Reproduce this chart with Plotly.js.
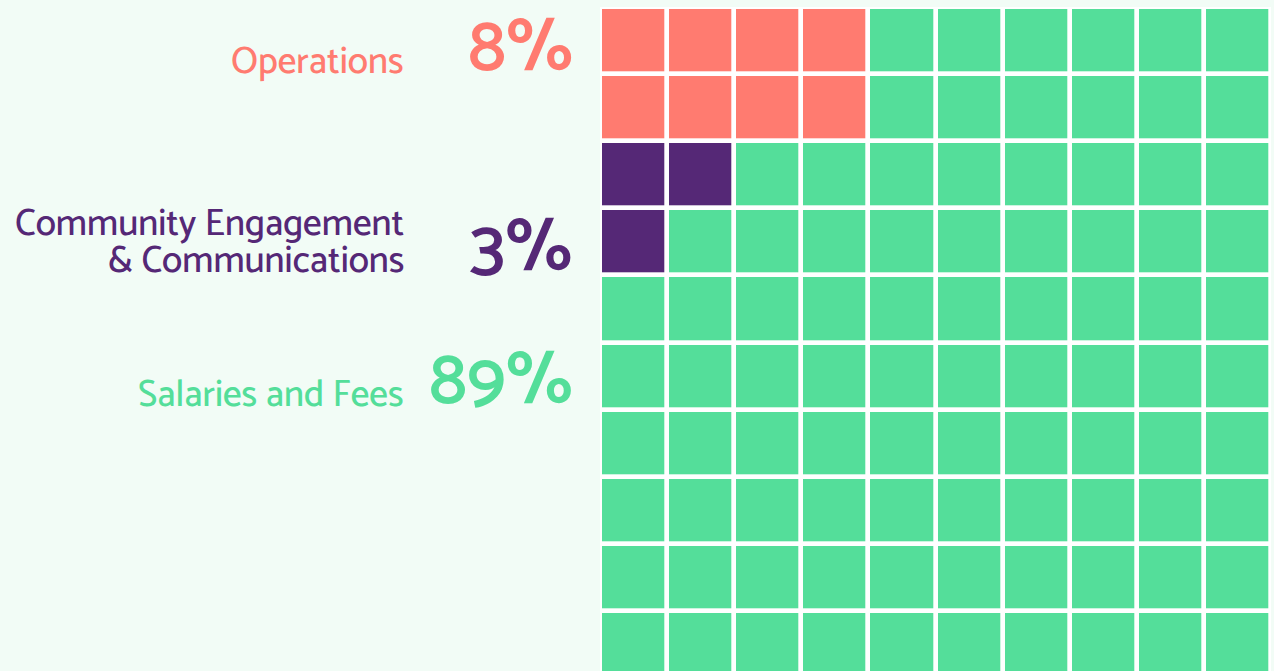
<!DOCTYPE html>
<html><head><meta charset="utf-8">
<script src="https://cdn.plot.ly/plotly-3.0.1.min.js"></script>
<style>html,body{margin:0;padding:0;background:#f2fcf6;}#chart{width:1274px;height:671px;}</style>
</head><body><div id="chart"></div>
<script>
const categories = ["Operations", "Community Engagement\n& Communications", "Salaries and Fees"];
const values = [8, 3, 89];
const colors = ["#ff7b70", "#552876", "#54de9a"];
// waffle layout: O=Operations, C=Community, S=Salaries
const gridRows = [
  "OOOOSSSSSS",
  "OOOOSSSSSS",
  "CCSSSSSSSS",
  "CSSSSSSSSS",
  "SSSSSSSSSS",
  "SSSSSSSSSS",
  "SSSSSSSSSS",
  "SSSSSSSSSS",
  "SSSSSSSSSS",
  "SSSSSSSSSS"
];
const codeIndex = {O: 0, C: 1, S: 2};

const z = gridRows.map(r => r.split("").map(c => codeIndex[c]));
const W = 1274, H = 671;
const mL = 600, mR = 3, mT = 7, mB = 0;
const pw = W - mL - mR, ph = H - mT - mB;
const unit = pw / 10;
const yUnits = ph / unit;

const trace = {
  type: "heatmap",
  z: z,
  x: [...Array(10).keys()],
  y: [...Array(10).keys()],
  zmin: 0, zmax: 2,
  colorscale: [[0, colors[0]], [0.333, colors[0]], [0.333, colors[1]], [0.667, colors[1]], [0.667, colors[2]], [1, colors[2]]],
  showscale: false,
  xgap: 4.7, ygap: 4.7,
  hoverinfo: "skip"
};

function px2x(p) { return (p - mL) / pw; }
function py2y(p) { return 1 - (p - mT) / ph; }

const font = "Catamaran, 'Open Sans', 'Noto Sans', sans-serif";
const labelY = [[62], [225, 261], [395]];
const pctY = [49, 249, 382];
const annotations = [];
categories.forEach((c, i) => {
  c.split("\n").forEach((line, j) => {
    annotations.push({
      xref: "paper", yref: "paper", x: px2x(406), y: py2y(labelY[i][j]),
      xanchor: "right", yanchor: "middle", align: "right",
      text: line, showarrow: false,
      font: {family: font, size: 37, weight: 500, color: colors[i]}
    });
  });
  annotations.push({
    xref: "paper", yref: "paper", x: px2x(575), y: py2y(pctY[i]),
    xanchor: "right", yanchor: "middle",
    text: values[i] + "%", showarrow: false,
    font: {family: font, size: 74, weight: 600, color: colors[i]}
  });
});

const layout = {
  width: W, height: H,
  margin: {l: mL, r: mR, t: mT, b: mB, pad: 0},
  paper_bgcolor: "#f2fcf6",
  plot_bgcolor: "#ffffff",
  xaxis: {range: [-0.5, 9.5], showgrid: false, zeroline: false, showticklabels: false, ticks: "", fixedrange: true},
  yaxis: {range: [-0.5 + yUnits, -0.5], showgrid: false, zeroline: false, showticklabels: false, ticks: "", fixedrange: true},
  annotations: annotations,
  showlegend: false
};

Plotly.newPlot("chart", [trace], layout, {displayModeBar: false, staticPlot: true});
</script>
</body></html>
